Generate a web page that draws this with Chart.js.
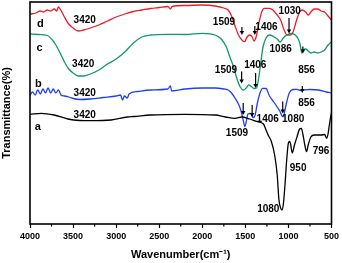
<!DOCTYPE html>
<html>
<head>
<meta charset="utf-8">
<script src="https://cdn.jsdelivr.net/npm/chart.js@4/dist/chart.umd.min.js"></script>
<style>
html,body{margin:0;padding:0;background:#fff;}
#wrap{position:relative;width:342px;height:263px;}
</style>
</head>
<body>
<div id="wrap"><canvas id="c" width="342" height="263"></canvas></div>
<script>
// ---- data (wavenumber in cm-1, transmittance in arbitrary units) ----
const seriesNames = ['a', 'b', 'c', 'd'];
const xTicks = [4000, 3500, 3000, 2500, 2000, 1500, 1000, 500];

const wnD = [4000,3930,3880,3840,3800,3760,3720,3690,3670,3650,3630,3600,3560,3500,3440,3380,3300,3200,3100,3000,2900,2800,2700,2600,2500,2400,2370,2350,2200,2000,1850,1750,1700,1660,1620,1580,1540,1509,1480,1450,1420,1400,1375,1340,1310,1280,1220,1180,1130,1090,1050,1015,980,945,905,870,840,800,770,740,700,660,620,580,540,500];
const tD  = [210,211,213,212,214,213,215,213,217,215,212,207,201,196,193,194,196,199,203,207,210,212.5,214,215.5,216.5,217.5,215,217.5,218.5,219,218,216,214,208,198,189,184,182.3,187,189,187,183,187,202,212,215.7,215.7,214,209,204,194,189,189,192.3,204,212,214,212,209,212,215,215,213,212,208,204];

const wnC = [4000,3900,3800,3740,3700,3650,3600,3550,3500,3440,3380,3300,3200,3100,3000,2900,2800,2700,2600,2400,2200,2000,1850,1780,1720,1680,1640,1600,1560,1520,1490,1460,1430,1400,1370,1345,1320,1295,1260,1220,1170,1130,1095,1060,1020,970,920,880,860,845,825,800,770,740,700,660,620,580,540,500];
const tC  = [190,189.5,188.5,184,179,171,162,155,151,148,148,150,154,160,165,172,181,187,189,189.7,189.5,190.7,189,185,177,167,158,146,137,134,136,139,137.5,135.5,136,146,162,177,186,189,187.3,185,182,186,189,190.5,189,184,178,171,174,175,173,171,172,171,172,174,179,182];

const wnB = [4000,3970,3940,3910,3880,3850,3820,3790,3760,3730,3700,3670,3640,3600,3550,3500,3420,3300,3150,3000,2950,2925,2905,2870,2850,2750,2600,2400,2370,2355,2200,2000,1850,1750,1700,1660,1620,1580,1550,1525,1505,1490,1470,1440,1410,1390,1360,1330,1300,1260,1220,1170,1130,1100,1075,1060,1040,1020,990,950,900,860,820,750,650,560,500];
const tB  = [129,132,129,134,130,135,131,136,131,135,131,134,129,128,127,125.5,124.5,125,126.5,128,129,124,128,126,130,132.5,134,135,138,133,135,136,136,135,134,131,126,120,113,104,97.3,102,110,110.7,106.5,108,121,131,135.7,135.5,128,122,117,113,108,107.3,114,122,131,134.5,134.7,133.5,134,134.5,134,132,131];

const wnA = [4000,3870,3720,3560,3420,3300,3060,2870,2790,2600,2200,1850,1730,1620,1540,1450,1360,1290,1260,1230,1200,1160,1130,1110,1090,1075,1060,1040,1020,1000,985,975,955,930,900,870,850,830,810,790,770,740,700,620,580,555,540,525,510,500];
const tA  = [109.7,110.7,109,105,103.5,103.3,104,107,107.5,109,109.7,109,107,105.7,107,105,102.3,100,94,88,83,69,49,24,16,14,19,39,64,81,82.5,80,71,79,87.3,95,95.7,89,79,72.3,79,87,89,89,89.5,85.7,90,99,107,111];

// annotation labels: [text, wavenumber, transmittance]
const labelTexts = ['d','c','b','a','3420','3420','3420','3420','1509','1406','1030','1086','856','1509','1406','856','1406','1080','1509','1080','950','796'];
const labelWn    = [3879,3890,3902,3908,3365,3382,3365,3365,1748,1255,985,1090,790,1725,1385,790,1240,945,1597,1234,887,621];
const labelT     = [200,176,140.5,97.5,204,160,131,109,201.5,197,212.3,174.7,154,154,159,121,104.7,105,91,14.5,55.5,72.5];

// arrows: wavenumber, tail value, head value
const arrowWn   = [1540,1390,993,832,1543,1381,839,1525,1421,1066];
const arrowFrom = [197,198,206,177.5,152.5,151,138,121,119,122.5];
const arrowTo   = [189,189,190.5,170.5,140.5,136,131,109,107,110.5];

const minorTicks = [3750,3250,2750,2250,1750,1250,750];

const toXY = (wn, t) => wn.map((x, i) => ({x: x, y: t[i]}));
const FONT = '"Liberation Sans", Arial, Helvetica, sans-serif';

const decor = {
  id: 'decor',
  afterDatasetsDraw(chart) {
    const ctx = chart.ctx, xs = chart.scales.x, ys = chart.scales.y, ca = chart.chartArea;
    ctx.save();
    // frame
    ctx.strokeStyle = '#000';
    ctx.lineWidth = 1.6;
    ctx.strokeRect(ca.left, ca.top, ca.right - ca.left, ca.bottom - ca.top);
    // minor ticks
    ctx.lineWidth = 1.2;
    minorTicks.forEach(v => {
      const px = xs.getPixelForValue(v);
      ctx.beginPath(); ctx.moveTo(px, ca.bottom); ctx.lineTo(px, ca.bottom + 2.5); ctx.stroke();
    });
    // arrows
    ctx.fillStyle = '#000';
    arrowWn.forEach((w, i) => {
      const px = xs.getPixelForValue(w);
      const y0 = ys.getPixelForValue(arrowFrom[i]);
      const y1 = ys.getPixelForValue(arrowTo[i]);
      ctx.lineWidth = 1.2;
      ctx.beginPath(); ctx.moveTo(px, y0); ctx.lineTo(px, y1 - 3); ctx.stroke();
      ctx.beginPath(); ctx.moveTo(px - 2.2, y1 - 4); ctx.lineTo(px + 2.2, y1 - 4); ctx.lineTo(px, y1); ctx.closePath(); ctx.fill();
    });
    // labels
    ctx.textAlign = 'center';
    ctx.textBaseline = 'middle';
    labelTexts.forEach((t, i) => {
      ctx.font = (t.length === 1 ? 'bold 11px ' : 'bold 10px ') + FONT;
      ctx.fillText(t, xs.getPixelForValue(labelWn[i]), ys.getPixelForValue(labelT[i]));
    });
    ctx.restore();
  }
};

const lineStyle = (label, data, color) => ({
  label: label, data: data, borderColor: color, backgroundColor: color,
  borderWidth: 1.3, pointRadius: 0, fill: false, cubicInterpolationMode: 'monotone'
});

new Chart(document.getElementById('c'), {
  type: 'line',
  data: {
    datasets: [
      lineStyle(seriesNames[0], toXY(wnA, tA), '#000000'),
      lineStyle(seriesNames[1], toXY(wnB, tB), '#1f3ff0'),
      lineStyle(seriesNames[2], toXY(wnC, tC), '#0f9966'),
      lineStyle(seriesNames[3], toXY(wnD, tD), '#f01c24')
    ]
  },
  options: {
    responsive: false,
    animation: false,
    events: [],
    layout: {padding: {left: 0, right: 9, top: 2, bottom: 0}},
    plugins: {legend: {display: false}, tooltip: {enabled: false}},
    scales: {
      x: {
        type: 'linear', reverse: true, min: 500, max: 4000,
        afterBuildTicks: s => { s.ticks = xTicks.map(v => ({value: v})); },
        afterFit: s => { s.height = 39; },
        border: {display: false},
        grid: {display: true, drawOnChartArea: false, drawTicks: true, tickLength: 4, tickWidth: 1.2, tickColor: '#000'},
        ticks: {color: '#000', font: {family: FONT, size: 9, weight: 'bold'}, padding: 3, maxRotation: 0, autoSkip: false,
                callback: v => String(v)},
        title: {display: true, text: 'Wavenumber(cm\u207B\u00B9)', color: '#000', font: {family: FONT, size: 11, weight: 'bold'}, padding: {top: 0, bottom: 1}}
      },
      y: {
        min: 0, max: 222,
        afterFit: s => { s.width = 30; },
        border: {display: false},
        grid: {display: false, drawTicks: false},
        ticks: {display: false},
        title: {display: true, text: 'Transmittance(%)', color: '#000', font: {family: FONT, size: 11, weight: 'bold'}, padding: {top: 0, bottom: 0}}
      }
    }
  },
  plugins: [decor]
});
</script>
</body>
</html>
